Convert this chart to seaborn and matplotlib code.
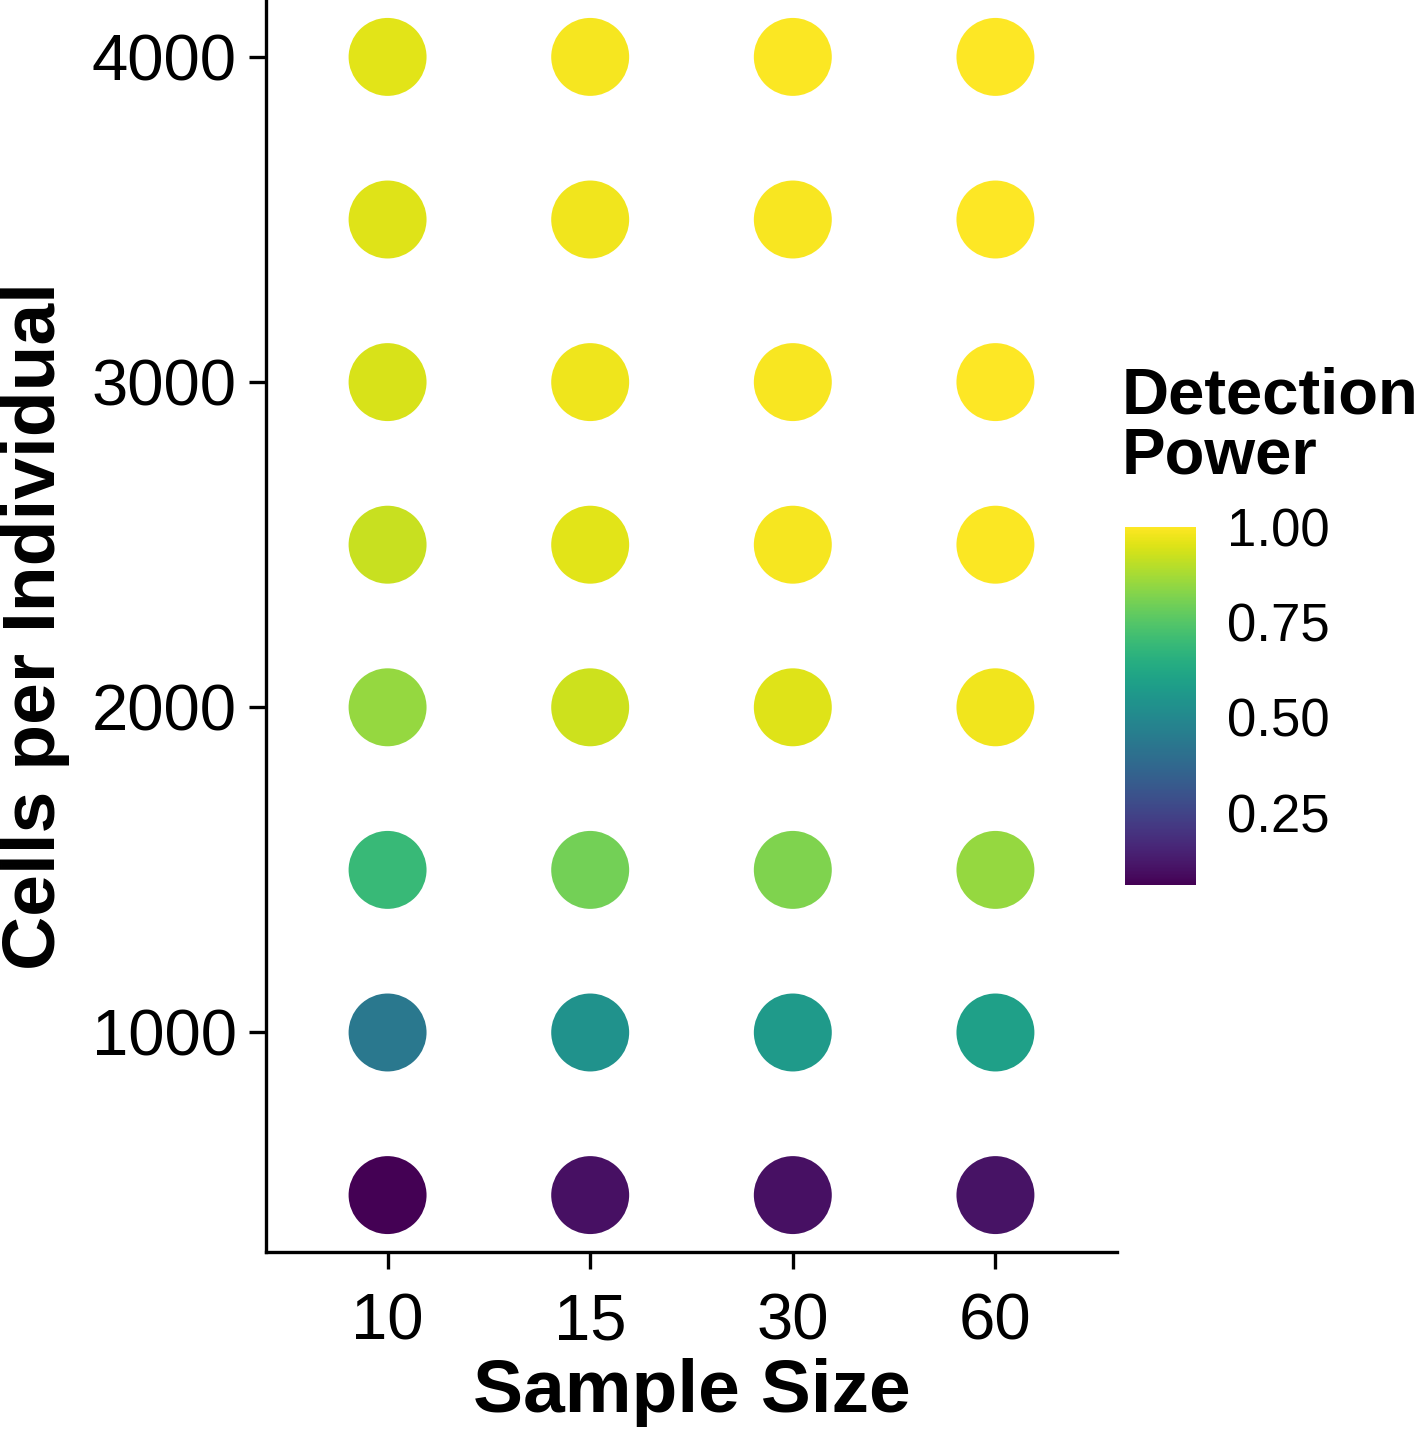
import numpy as np
import pandas as pd
import matplotlib
matplotlib.use("Agg")
import matplotlib.pyplot as plt
import seaborn as sns

#---- Data ----#
sample_sizes = ["10", "15", "30", "60"]
cells_per_ind = [500, 1000, 1500, 2000, 2500, 3000, 3500, 4000]

# detection power per sample size, ordered by cells_per_ind
power_n10 = [0.060, 0.436, 0.695, 0.850, 0.920, 0.944, 0.953, 0.958]
power_n15 = [0.100, 0.540, 0.800, 0.930, 0.958, 0.977, 0.981, 0.986]
power_n30 = [0.100, 0.570, 0.820, 0.953, 0.986, 0.991, 0.991, 0.995]
power_n60 = [0.105, 0.590, 0.850, 0.981, 0.995, 0.997, 0.999, 1.000]

cbar_ticks = [0.25, 0.50, 0.75, 1.00]

rows = []
for n, pw in zip(sample_sizes, [power_n10, power_n15, power_n30, power_n60]):
    for c, p in zip(cells_per_ind, pw):
        rows.append({"Sample Size": n, "Cells": c, "Power": p})
df = pd.DataFrame(rows)

pmin, pmax = df["Power"].min(), df["Power"].max()

#---- Plot ----#
sns.set_style("white")
plt.rcParams["font.family"] = ["Liberation Sans", "DejaVu Sans"]
plt.rcParams["text.color"] = "black"
plt.rcParams["axes.labelcolor"] = "black"
plt.rcParams["xtick.color"] = "black"
plt.rcParams["ytick.color"] = "black"

W, H = 1419, 1433
fig = plt.figure(figsize=(W / 100, H / 100), dpi=100)
ax = fig.add_axes([266 / W, 1 - 1252 / H, (1117 - 266) / W, 1252 / H])

sns.scatterplot(data=df, x="Sample Size", y="Cells", hue="Power",
                palette="viridis", hue_norm=(pmin, pmax), s=3150,
                linewidth=0, legend=False, ax=ax)

ax.set_xlim(-0.6, 3.6)
ax.set_ylim(325, 4175)
ax.set_yticks([1000, 2000, 3000, 4000])
ax.set_xlabel("Sample Size", fontsize=54, fontweight="bold", labelpad=4)
ax.set_ylabel("Cells per Individual", fontsize=54, fontweight="bold", labelpad=16)

for side in ["top", "right"]:
    ax.spines[side].set_visible(False)
for side in ["left", "bottom"]:
    ax.spines[side].set_linewidth(2.4)
    ax.spines[side].set_color("black")
ax.tick_params(axis="both", labelsize=47, length=12, width=2.4, color="black",
               labelcolor="black", direction="out", left=True, bottom=True)
ax.tick_params(axis="y", pad=9)
ax.tick_params(axis="x", pad=17)

# colour bar
cax = fig.add_axes([1125 / W, 1 - 885 / H, 71 / W, 358 / H])
sm = plt.cm.ScalarMappable(cmap="viridis", norm=plt.Normalize(pmin, pmax))
cb = fig.colorbar(sm, cax=cax, ticks=cbar_ticks)
cb.outline.set_visible(False)
cb.ax.set_yticklabels(["%.2f" % t for t in cbar_ticks])
cb.ax.tick_params(direction="in", color="white", length=13, width=1.5,
                  left=True, right=True, labelleft=False, labelright=True,
                  labelsize=38, labelcolor="black", pad=22)

fig.text(1122 / W, 1 - 367 / H, "Detection\nPower", ha="left", va="top",
         fontsize=47, fontweight="bold", linespacing=1.0, color="black")

plt.savefig("out.png", dpi=100)
